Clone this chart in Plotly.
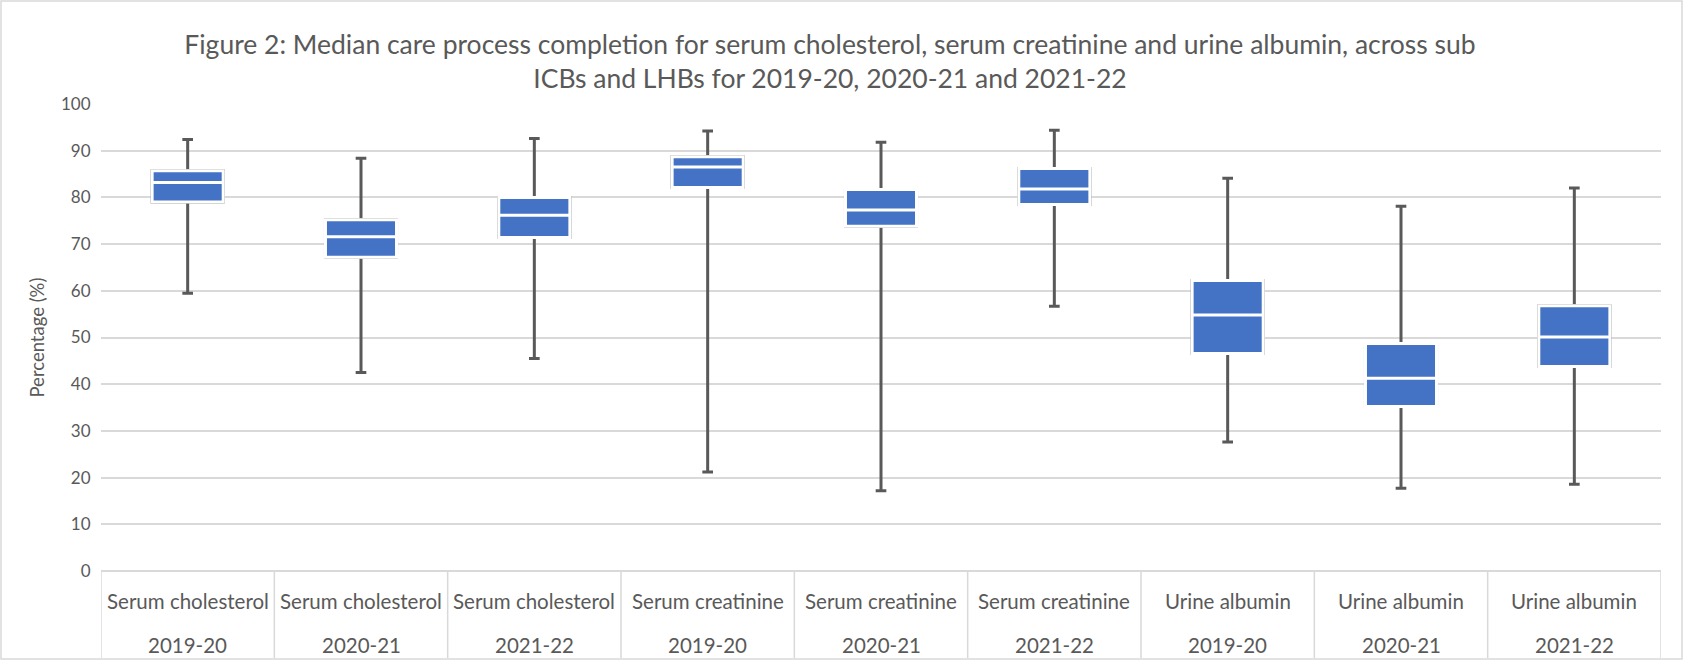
import plotly.graph_objects as go

# ---- data ----
measures = ["Serum cholesterol", "Serum cholesterol", "Serum cholesterol",
            "Serum creatinine", "Serum creatinine", "Serum creatinine",
            "Urine albumin", "Urine albumin", "Urine albumin"]
years = ["2019-20", "2020-21", "2021-22"] * 3
lower = [59.5, 42.5, 45.5, 21.2, 17.2, 56.7, 27.6, 17.7, 18.6]
q1 = [79.0, 67.2, 71.4, 82.1, 73.8, 78.5, 46.6, 35.2, 43.8]
median = [83.2, 71.6, 76.2, 86.5, 77.3, 81.8, 54.8, 41.3, 50.1]
q3 = [85.7, 75.2, 80.0, 88.7, 81.7, 86.2, 62.2, 48.7, 56.8]
upper = [92.4, 88.4, 92.6, 94.2, 91.8, 94.4, 84.1, 78.1, 82.0]
y_ticks = [0, 10, 20, 30, 40, 50, 60, 70, 80, 90, 100]

title_text = ("Figure 2: Median care process completion for serum cholesterol, serum creatinine and urine albumin, across sub"
              "<br>ICBs and LHBs for 2019-20, 2020-21 and 2021-22")

cats = [f"{m} {y}" for m, y in zip(measures, years)]

BLUE = "#4472C4"
GREY = "#595959"
GRID = "#D9D9D9"
FONT = "Lato, Carlito, Calibri, sans-serif"

fig = go.Figure()
# whiskers (grey)
fig.add_trace(go.Box(
    x=cats, q1=q1, median=median, q3=q3, lowerfence=lower, upperfence=upper,
    fillcolor=BLUE, line=dict(color=GREY, width=3), width=0.41, whiskerwidth=0.15,
    boxpoints=False, showlegend=False, hoverinfo="skip"))
# boxes on top (blue with white outline / white median)
fig.add_trace(go.Box(
    x=cats, q1=q1, median=median, q3=q3, lowerfence=q1, upperfence=q3,
    fillcolor=BLUE, line=dict(color="white", width=3), width=0.41, whiskerwidth=0,
    boxpoints=False, showlegend=False))

n = len(cats)
L, R, T, B = 101, 22, 104, 90
W, H = 1683, 661
pw, ph = W - L - R, H - T - B

def px_x(p):
    return (p - L) / pw

def px_y(p):
    return (H - B - p) / ph

annotations = []
for i, (m, y) in enumerate(zip(measures, years)):
    annotations.append(dict(x=cats[i], y=px_y(601), xref="x", yref="paper", text=m,
                            showarrow=False, xanchor="center", yanchor="middle",
                            font=dict(family=FONT, size=20.5, color=GREY)))
    annotations.append(dict(x=cats[i], y=px_y(645), xref="x", yref="paper", text=y,
                            showarrow=False, xanchor="center", yanchor="middle",
                            font=dict(family=FONT, size=20.5, color=GREY)))
annotations.append(dict(x=px_x(36), y=0.5, xref="paper", yref="paper", text="Percentage (%)",
                        textangle=-90, showarrow=False, xanchor="center", yanchor="middle",
                        font=dict(family=FONT, size=18.5, color=GREY)))

shapes = []
for k in range(n + 1):
    shapes.append(dict(type="line", xref="x", yref="paper", x0=k - 0.5, x1=k - 0.5,
                       y0=0, y1=px_y(658), line=dict(color=GRID, width=1.5)))
# chart frame
shapes.append(dict(type="rect", xref="paper", yref="paper",
                   x0=px_x(1), x1=px_x(1682), y0=px_y(659), y1=px_y(1),
                   line=dict(color=GRID, width=1.5), fillcolor="rgba(0,0,0,0)", layer="below"))

fig.update_layout(
    width=W, height=H,
    margin=dict(l=L, r=R, t=T, b=B),
    paper_bgcolor="white", plot_bgcolor="white",
    title=dict(text=title_text, x=830 / W, xanchor="center", xref="container",
               y=1 - 54 / H, yref="container", yanchor="middle",
               font=dict(family=FONT, size=26.5, color=GREY)),
    boxmode="overlay",
    xaxis=dict(type="category", range=[-0.5, n - 0.5], showticklabels=False, ticks="",
               showgrid=False, showline=False, zeroline=False, fixedrange=True),
    yaxis=dict(range=[0, 100], tickvals=y_ticks, showgrid=True, gridcolor=GRID, gridwidth=1.5,
               zeroline=True, zerolinecolor=GRID, zerolinewidth=1.5, showline=False,
               ticks="outside", ticklen=6, tickcolor="rgba(0,0,0,0)",
               tickfont=dict(family=FONT, size=17, color=GREY), fixedrange=True),
    annotations=annotations, shapes=shapes,
    font=dict(family=FONT, color=GREY),
)

fig.write_html("out.html", config={"displayModeBar": False},
               post_script="document.body.style.margin='0';document.body.style.overflow='hidden';")
